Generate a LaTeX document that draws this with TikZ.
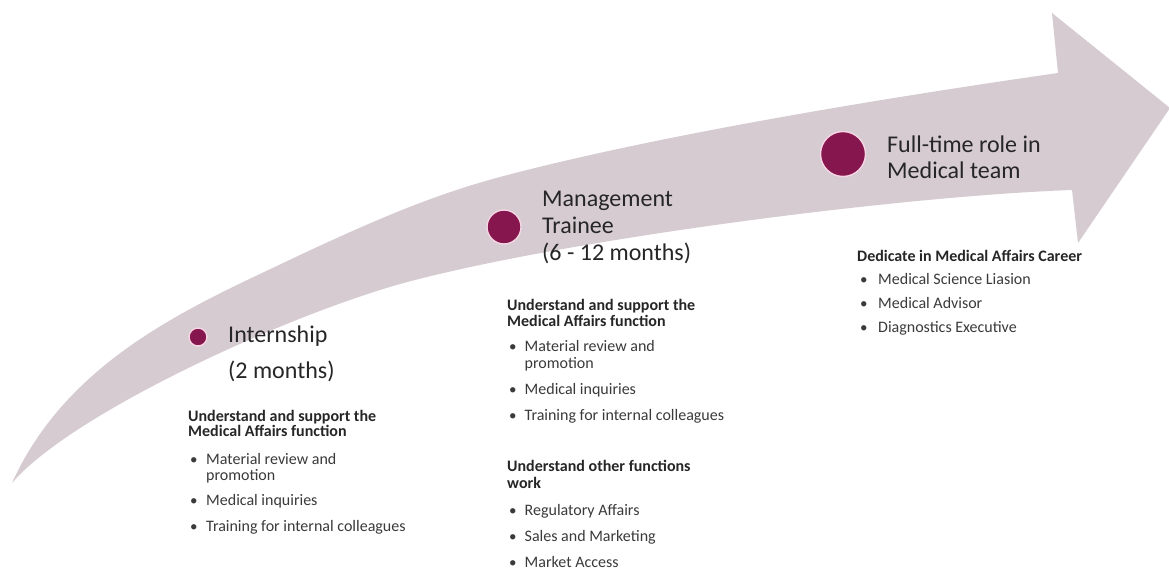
\documentclass[tikz,border=0pt]{standalone}
\usepackage{fontspec}
\setmainfont{Carlito}
\definecolor{arrowfill}{RGB}{214,203,208}
\definecolor{stagefill}{RGB}{134,22,78}
\definecolor{ringcol}{RGB}{246,214,228}
\definecolor{titleink}{RGB}{38,38,38}
\definecolor{bodyink}{RGB}{58,58,58}
\begin{document}
\begin{tikzpicture}[x=1pt,y=-1pt,
  title/.style={anchor=base west,inner sep=0pt,text=titleink,font=\fontsize{24}{28}\selectfont},
  head/.style={anchor=base west,inner sep=0pt,text=titleink,font=\fontsize{16}{19}\selectfont\bfseries},
  item/.style={anchor=base west,inner sep=0pt,text=bodyink,font=\fontsize{16}{19}\selectfont},
  dotmark/.style={anchor=base west,inner sep=0pt,text=bodyink,font=\fontsize{15}{19}\selectfont},
  stagedot/.style={circle,fill=stagefill,draw=ringcol,line width=1.4pt,inner sep=0pt}]
\useasboundingbox[fill=white] (0,0) rectangle (1169,569);
% curved arrow
\fill[arrowfill] (12,483) .. controls (70,355) and (200,303) .. (300,255)
  .. controls (375,220) and (433,195) .. (500,177)
  .. controls (650,137) and (870,100) .. (1058,73)
  -- (1052,13) -- (1170,108) -- (1078,243) -- (1072,190)
  .. controls (900,196) and (560,240) .. (400,284)
  .. controls (280,318) and (70,415) .. (12,483) -- cycle;
% stage 1
\node[stagedot,minimum size=18pt] (c1) at (198,337) {};
\node[title] (t1a) at (228,342) {Internship};
\node[title] (t1b) at (228,378) {(2 months)};
\node[head] (h1a) at (188,421) {Understand and support the};
\node[head] (h1b) at (188,436.5) {Medical Affairs function};
\node[dotmark] (d1a) at (190,464) {•};
\node[item] (i1a) at (206,464) {Material review and};
\node[item] (i1a2) at (206,480.5) {promotion};
\node[dotmark] (d1b) at (190,505) {•};
\node[item] (i1b) at (206,505) {Medical inquiries};
\node[dotmark] (d1c) at (190,531) {•};
\node[item] (i1c) at (206,531) {Training for internal colleagues};
% stage 2
\node[stagedot,minimum size=34pt] (c2) at (504,227) {};
\node[title] (t2a) at (542,207) {Management};
\node[title] (t2b) at (542,234) {Trainee};
\node[title] (t2c) at (542,260.5) {(6 - 12 months)};
\node[head] (h2a) at (507,310) {Understand and support the};
\node[head] (h2b) at (507,326.5) {Medical Affairs function};
\node[dotmark] (d2a) at (509,351.5) {•};
\node[item] (i2a) at (524.5,351.5) {Material review and};
\node[item] (i2a2) at (524.5,368) {promotion};
\node[dotmark] (d2b) at (509,394.5) {•};
\node[item] (i2b) at (524.5,394.5) {Medical inquiries};
\node[dotmark] (d2c) at (509,420.5) {•};
\node[item] (i2c) at (524.5,420.5) {Training for internal colleagues};
\node[head] (h2c) at (507,471.5) {Understand other functions};
\node[head] (h2d) at (507,488) {work};
\node[dotmark] (d2d) at (509,515) {•};
\node[item] (i2d) at (524.5,515) {Regulatory Affairs};
\node[dotmark] (d2e) at (509,541.5) {•};
\node[item] (i2e) at (524.5,541.5) {Sales and Marketing};
\node[dotmark] (d2f) at (509,567) {•};
\node[item] (i2f) at (524.5,567) {Market Access};
% stage 3
\node[stagedot,minimum size=45pt] (c3) at (843,154) {};
\node[title] (t3a) at (887,153) {Full-time role in};
\node[title] (t3b) at (887,179) {Medical team};
\node[head] (h3a) at (857,261.5) {Dedicate in Medical Affairs Career};
\node[dotmark] (d3a) at (860,284.5) {•};
\node[item] (i3a) at (878,284.5) {Medical Science Liasion};
\node[dotmark] (d3b) at (860,308) {•};
\node[item] (i3b) at (878,308) {Medical Advisor};
\node[dotmark] (d3c) at (860,332) {•};
\node[item] (i3c) at (878,332) {Diagnostics Executive};
\end{tikzpicture}
\end{document}
